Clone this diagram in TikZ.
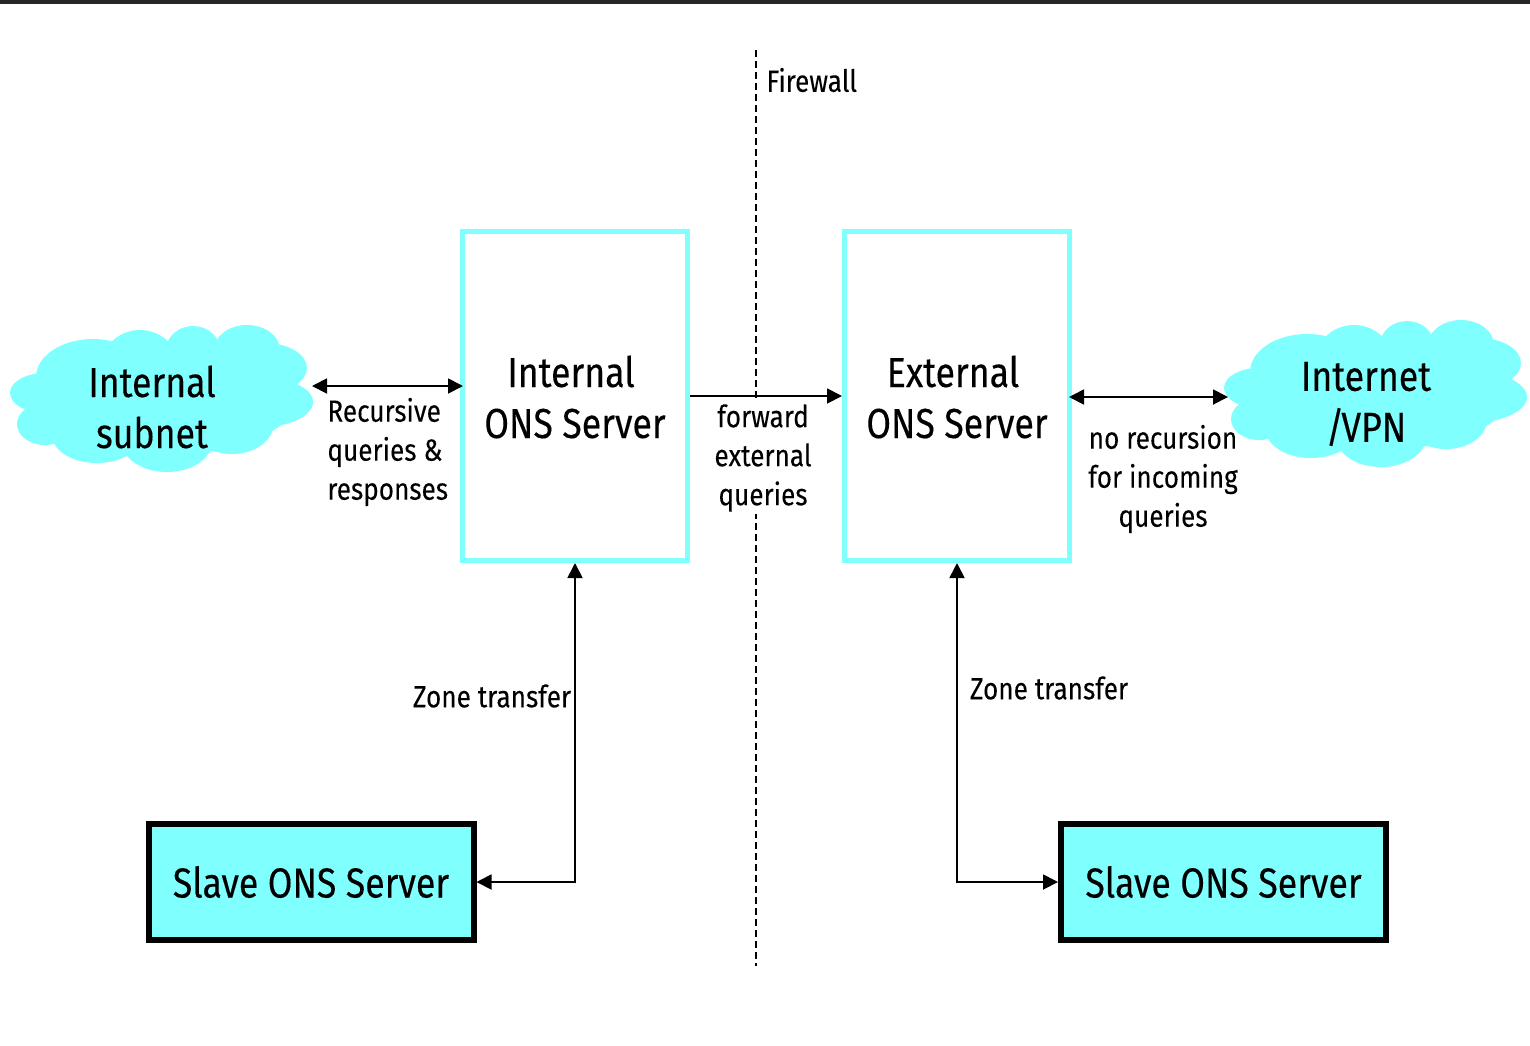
\documentclass[tikz,border=0pt]{standalone}
\usepackage{fontspec}
\setmainfont[FakeStretch=0.85,FakeBold=0.2]{Fira Sans}
\newfontfamily\labelfont[FakeStretch=0.855,FakeBold=0.08]{Fira Sans}
\usetikzlibrary{arrows.meta}
\definecolor{onscyan}{HTML}{80FFFF}
\definecolor{topbar}{HTML}{262626}
\tikzset{%
  serverbox/.style = {shape=rectangle, draw=onscyan, line width=2.5pt, fill=white,%
                      minimum width=112.5pt, minimum height=164.5pt, align=center,%
                      inner sep=0pt},%
  slavebox/.style  = {shape=rectangle, draw=black, line width=3pt, fill=onscyan,%
                      minimum width=162.5pt, minimum height=58pt, inner sep=0pt,%
                      font=\fontsize{21}{25.5}\selectfont},%
  cloudtext/.style = {align=center, inner sep=0pt, font=\fontsize{21}{25.5}\selectfont},%
  edgetext/.style  = {align=center, inner sep=1pt, font=\labelfont\fontsize{15.3}{19.5}\selectfont},%
  link/.style      = {line width=0.9pt, -{Triangle[length=7.5pt,width=7.5pt]}},%
  dbllink/.style   = {line width=0.9pt, {Triangle[length=7.5pt,width=7.5pt]}-{Triangle[length=7.5pt,width=7.5pt]}}%
}
\begin{document}
\begin{tikzpicture}[x=0.5pt,y=-0.5pt]
	\useasboundingbox (0,0) rectangle (1530,1045);
	\fill[topbar] (0,0) rectangle (1530,4);
	\draw[line width=1pt,dash pattern=on 3.5pt off 2pt] (756,50) -- (756,966);
	% clouds
	\foreach \dx/\dy in {0/0,1214/-5}
		\foreach \cx/\cy/\rx/\ry in {165/400/130/55,93/377/57/38,140/365/38/35,193/350/27/24,247/350/33/25,265/368/42/25,255/402/58/26,232/425/41/29,167/442/45/30,97/435/45/28,45/424/28/21,45/393/35/20}
			\fill[onscyan] (\cx+\dx,\cy+\dy) ellipse [x radius={\rx*0.5pt}, y radius={\ry*0.5pt}];
	\node[cloudtext] (intsubnet) at (152,407) {Internal\\subnet};
	\node[cloudtext] (internet) at (1366,404) {Internet\\/\kern-1.5pt VPN};
	\coordinate (intedge) at (312,386);
	\coordinate (intport) at (463,386);
	\coordinate (extport) at (1069,397);
	\coordinate (netedge) at (1228,397);
	% servers
	\node[serverbox] (intserver) at (575,396) {};
	\node[serverbox] (extserver) at (957,396) {};
	\node[cloudtext] (intname) at (575,397) {Internal\hspace*{4pt}\\ONS Server};
	\node[cloudtext] (extname) at (957,397) {External\hspace*{4pt}\\ONS Server};
	\node[slavebox] (slaveint) at (311,882) {Slave ONS Server};
	\node[slavebox] (slaveext) at (1223.5,882) {Slave ONS Server};
	% connectors
	\draw[dbllink] (intedge) -- (intport);
	\draw[dbllink] (extport) -- (netedge);
	\draw[link] (intserver) -- (extserver);
	\draw[dbllink] (slaveint.east) -| (intserver.south);
	\draw[dbllink] (slaveext.west) -| (extserver.south);
	% labels
	\node[edgetext, anchor=west] (firewall) at (764,80) {Firewall};
	\node[edgetext, anchor=west, align=left] (recursive) at (325,452) {Recursive\\queries \&\\responses};
	\node[edgetext, fill=white] (forward) at (763,458) {forward\\external\\queries};
	\node[edgetext] (norecursion) at (1163,479) {no recursion\\for incoming\\queries};
	\node[edgetext] (zoneint) at (492,696) {Zone transfer};
	\node[edgetext] (zoneext) at (1049,688) {Zone transfer};
\end{tikzpicture}
\end{document}
